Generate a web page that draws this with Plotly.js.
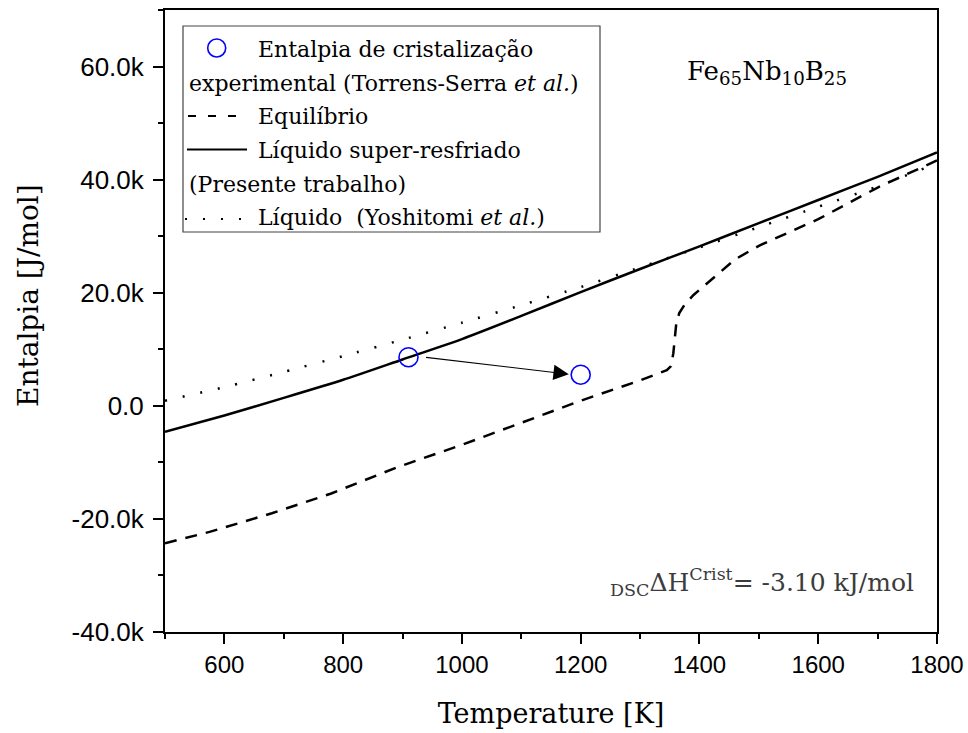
<!DOCTYPE html>
<html>
<head>
<meta charset="utf-8">
<script src="https://cdn.plot.ly/plotly-3.0.1.min.js"></script>
<style>html,body{margin:0;padding:0;background:#fff;}#chart{width:968px;height:733px;}</style>
</head>
<body>
<div id="chart"></div>
<script>
// ---- data ----
var tempSolid = [500, 600, 700, 800, 900, 1000, 1100, 1200, 1300, 1400, 1500, 1600, 1700, 1800];
var hSolid    = [-4600, -1700, 1400, 4600, 8200, 11800, 15900, 20100, 24200, 28200, 32300, 36400, 40500, 44800];

var tempDotted = [500, 600, 700, 800, 900, 1000, 1100, 1200, 1300, 1400, 1500, 1600, 1700, 1800];
var hDotted    = [900, 3300, 6000, 8800, 11700, 14700, 17800, 21000, 24500, 28000, 31600, 35200, 38800, 42900];

var tempEquil = [500, 575, 680, 780, 890, 1000, 1100, 1200, 1300, 1345, 1352, 1356, 1361, 1366, 1375, 1390, 1430, 1460, 1500, 1550, 1600, 1650, 1700, 1750, 1800];
var hEquil    = [-24300, -22300, -19000, -15500, -10900, -6900, -3000, 900, 4500, 6300, 7000, 9300, 14600, 16400, 17900, 19600, 23200, 25900, 28300, 30600, 33000, 35800, 38600, 41000, 43400];

var tempExp = [910, 1200];
var hExp    = [8600, 5500];

var xTickVals = [600, 800, 1000, 1200, 1400, 1600, 1800];
var xTickText = ['600', '800', '1000', '1200', '1400', '1600', '1800'];
var yTickVals = [-40000, -20000, 0, 20000, 40000, 60000];
var yTickText = ['-40.0k', '-20.0k', '0.0', '20.0k', '40.0k', '60.0k'];

// ---- helpers: pixel -> paper coordinates of the plot area ----
var PL = 165, PW = 772, PT = 10, PH = 622;
function px(x) { return (x - PL) / PW; }
function py(y) { return (PT + PH - y) / PH; }

var serif = 'DejaVu Serif, Liberation Serif, serif';
var sans = 'Liberation Sans, Arial, sans-serif';

var traces = [
  { x: tempEquil, y: hEquil, mode: 'lines', type: 'scatter', name: 'Equilíbrio',
    line: { color: '#000', width: 2.5, dash: '12px,9px' }, hoverinfo: 'skip' },
  { x: tempDotted, y: hDotted, mode: 'lines', type: 'scatter', name: 'Líquido (Yoshitomi et al.)',
    line: { color: '#000', width: 2.5, dash: '2px,16px', shape: 'spline', smoothing: 0.6 }, hoverinfo: 'skip' },
  { x: tempSolid, y: hSolid, mode: 'lines', type: 'scatter', name: 'Líquido super-resfriado',
    line: { color: '#000', width: 2.5, shape: 'spline', smoothing: 0.6 }, hoverinfo: 'skip' },
  { x: tempExp, y: hExp, mode: 'markers', type: 'scatter', name: 'Entalpia de cristalização',
    marker: { symbol: 'circle-open', size: 19, color: '#0000ff', line: { color: '#0000ff', width: 1.6 } },
    hoverinfo: 'skip' }
];

var legendFont = { family: serif, size: 22, color: '#000' };
function legText(x, baseline, txt) {
  return { xref: 'paper', yref: 'paper', x: px(x), y: py(baseline - 7.5), xanchor: 'left', yanchor: 'middle',
           text: txt, showarrow: false, font: legendFont };
}

var annotations = [
  // arrow between experimental points
  { x: 1180, y: 5600, ax: 937, ay: 8600, xref: 'x', yref: 'y', axref: 'x', ayref: 'y',
    text: '', showarrow: true, arrowhead: 2, arrowsize: 2.8, arrowwidth: 1.1, arrowcolor: '#000' },
  legText(256, 56.7, 'Entalpia de cristalização'),
  legText(187, 90.7, 'experimental (Torrens-Serra <i>et al.</i>)'),
  legText(256, 124, 'Equilíbrio'),
  legText(256, 158, 'Líquido super-resfriado'),
  legText(187, 192, '(Presente trabalho)'),
  legText(256, 225, 'Líquido  (Yoshitomi <i>et al.</i>)'),
  { xref: 'paper', yref: 'paper', x: px(767), y: py(72), xanchor: 'center', yanchor: 'middle',
    text: 'Fe<sub>65</sub>Nb<sub>10</sub>B<sub>25</sub>', showarrow: false,
    font: { family: serif, size: 26, color: '#000' } },
  { xref: 'paper', yref: 'paper', x: px(916), y: py(582), xanchor: 'right', yanchor: 'middle',
    text: '<sub>DSC</sub>ΔH<sup>Crist</sup>= -3.10 kJ/mol', showarrow: false,
    font: { family: serif, size: 25, color: '#3c3c3c' } },
  // y-axis title (placed slightly above the plot centre, as in the reference)
  { xref: 'paper', yref: 'paper', x: px(28), y: py(296), xanchor: 'center', yanchor: 'middle',
    text: 'Entalpia [J/mol]', textangle: -90, showarrow: false,
    font: { family: serif, size: 28, color: '#000' } }
];

var shapes = [
  // legend frame
  { type: 'rect', xref: 'paper', yref: 'paper', x0: px(183), x1: px(600), y0: py(232), y1: py(26),
    line: { color: '#444', width: 1.2 }, fillcolor: 'rgba(255,255,255,0)' },
  // legend samples
  { type: 'circle', xref: 'paper', yref: 'paper', xsizemode: 'pixel', ysizemode: 'pixel',
    xanchor: px(216.7), yanchor: py(48), x0: -9, x1: 9, y0: -9, y1: 9,
    line: { color: '#0000ff', width: 1.6 } },
  { type: 'line', xref: 'paper', yref: 'paper', x0: px(188), x1: px(240), y0: py(116), y1: py(116),
    line: { color: '#000', width: 2, dash: '8px,12px' } },
  { type: 'line', xref: 'paper', yref: 'paper', x0: px(187), x1: px(247), y0: py(149.5), y1: py(149.5),
    line: { color: '#000', width: 2.2 } },
  { type: 'line', xref: 'paper', yref: 'paper', x0: px(185), x1: px(242), y0: py(219), y1: py(219),
    line: { color: '#000', width: 2.2, dash: '2px,16px' } }
];

var layout = {
  width: 968, height: 733,
  margin: { l: 165, r: 31, t: 10, b: 101, pad: 0 },
  paper_bgcolor: '#fff', plot_bgcolor: '#fff',
  showlegend: false,
  xaxis: {
    range: [500, 1800], tickmode: 'array', tickvals: xTickVals, ticktext: xTickText,
    ticks: 'outside', ticklen: 10, tickwidth: 2, tickcolor: '#000',
    showline: true, linewidth: 2, linecolor: '#000', mirror: true,
    showgrid: false, zeroline: false,
    tickfont: { family: sans, size: 24, color: '#000' },
    minor: { dtick: 100, tick0: 500, ticks: 'outside', ticklen: 5, tickwidth: 2, tickcolor: '#000', showgrid: false },
    title: { text: 'Temperature [K]', font: { family: serif, size: 27, color: '#000' }, standoff: 27 }
  },
  yaxis: {
    range: [-40000, 70000], tickmode: 'array', tickvals: yTickVals, ticktext: yTickText,
    ticks: 'outside', ticklen: 10, tickwidth: 2, tickcolor: '#000',
    showline: true, linewidth: 2, linecolor: '#000', mirror: true,
    showgrid: false, zeroline: false, ticklabelstandoff: 4,
    tickfont: { family: sans, size: 26, color: '#000' },
    minor: { dtick: 10000, tick0: -40000, ticks: 'outside', ticklen: 5, tickwidth: 2, tickcolor: '#000', showgrid: false }
  },
  annotations: annotations,
  shapes: shapes
};

Plotly.newPlot('chart', traces, layout, { staticPlot: true, displayModeBar: false });
</script>
</body>
</html>
